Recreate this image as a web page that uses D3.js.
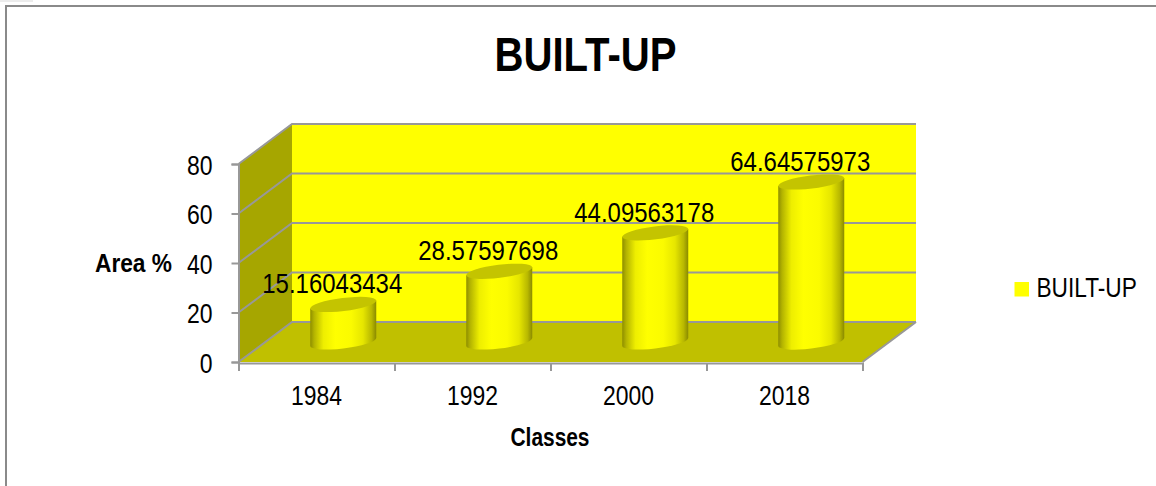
<!DOCTYPE html>
<html><head><meta charset="utf-8">
<script src="https://cdn.jsdelivr.net/npm/d3@7"></script>
<style>html,body{margin:0;padding:0;background:#fff}svg{display:block}text{font-family:"Liberation Sans",sans-serif;fill:#000}</style>
</head><body><svg id="c" width="1156" height="486"></svg>
<script>
const categories = ["1984","1992","2000","2018"];
const values = [15.16043434,28.57597698,44.09563178,64.64575973];
const valueLabels = ["15.16043434","28.57597698","44.09563178","64.64575973"];
const yTicks = [0,20,40,60,80];
const seriesName = "BUILT-UP";
const titleText = "BUILT-UP", xTitle = "Classes", yTitle = "Area %";

const svg = d3.select("#c");
const L=238.5,R=862.5,B=362,T=164,DX=53.5,DY=-40;
const x = d3.scaleBand().domain(categories).range([L,R]);
const xEdges = d3.scaleLinear().domain([0,categories.length]).range([L,R]);
const y = d3.scaleLinear().domain([0,80]).range([B,T]);
const grey="#989898";
// squeeze Liberation Sans to the reference's narrow letterforms
const fit=(sel,w)=>sel.each(function(){this.setAttribute("textLength",typeof w==="function"?w(this.textContent):w);this.setAttribute("lengthAdjust","spacingAndGlyphs");});

// frame
svg.append("rect").attr("x",0).attr("y",0).attr("width",33).attr("height",2).attr("fill","#ececec");
svg.append("path").attr("d","M6,486V6H1156").attr("fill","none").attr("stroke","#8a8a8a").attr("stroke-width",2);

// gradient
const defs=svg.append("defs");
const g=defs.append("linearGradient").attr("id","cyl").attr("x1",0).attr("x2",1).attr("y1",0).attr("y2",0);
[[0,"#8e8e00"],[0.06,"#b4b400"],[0.2,"#eeee00"],[0.38,"#ffff00"],[0.62,"#fbfb00"],[0.8,"#e6e600"],[0.93,"#b8b800"],[1,"#8a8a00"]]
 .forEach(([o,c])=>g.append("stop").attr("offset",o).attr("stop-color",c));

// walls
svg.append("path").attr("fill","#ffff00")
 .attr("d",d3.line()([[L+DX,y(80)+DY],[R+DX,y(80)+DY],[R+DX,y(0)+DY],[L+DX,y(0)+DY]])+"Z");
svg.append("path").attr("fill","#a6a600")
 .attr("d",d3.line()([[L,y(80)],[L+DX,y(80)+DY],[L+DX,y(0)+DY],[L,y(0)]])+"Z");
svg.append("path").attr("fill","#c0c000")
 .attr("d",d3.line()([[L,y(0)],[L+DX,y(0)+DY],[R+DX,y(0)+DY],[R,y(0)]])+"Z");
// gridlines
svg.append("g").selectAll("path").data(yTicks).join("path").attr("fill","none").attr("stroke",grey).attr("stroke-width",2)
 .attr("d",v=>d3.line()([[L,y(v)],[L+DX,y(v)+DY],[R+DX,y(v)+DY]]));
svg.append("path").attr("fill","none").attr("stroke",grey).attr("stroke-width",2)
 .attr("d",d3.line()([[R,y(0)],[R+DX,y(0)+DY]]));

// axes
const ay=svg.append("g").attr("transform",`translate(${L},0)`)
 .call(d3.axisLeft(y).tickValues(yTicks).tickSize(7).tickPadding(19));
const ax=svg.append("g").attr("transform",`translate(0,${B+1})`)
 .call(d3.axisBottom(xEdges).ticks(categories.length).tickSize(8).tickFormat(""));
const al=svg.append("g").attr("transform",`translate(0,${B+1})`)
 .call(d3.axisBottom(x).tickSize(0).tickPadding(0));
al.select(".domain").remove();
[ay,ax].forEach(a=>{a.selectAll("path,line").attr("stroke",grey).attr("stroke-width",2);});
ay.selectAll("text").attr("font-size",27).attr("font-family",null).attr("y",1.5).call(fit,t=>t.length*12.8);
al.selectAll("text").attr("font-size",27).attr("font-family",null).attr("dy",null).attr("y",42).call(fit,51);

// cylinders
const rx=33.2, ry=6.5, tilt=-7, ex=33, ey=3.9;
const cx=d=>x(d)+x.bandwidth()/2+DX/2;
const cyBase=y(0)+DY/2;
const bars=svg.append("g").selectAll("g").data(categories.map((c,i)=>({c,v:values[i],l:valueLabels[i]}))).join("g");
bars.append("path").attr("fill","url(#cyl)")
 .attr("d",d=>{const X=cx(d.c),Yb=cyBase,Yt=cyBase-(y(0)-y(d.v));
   return `M${X-ex},${Yt+ey}L${X-ex},${Yb+ey}A${rx},${ry} ${tilt} 0 0 ${X+ex},${Yb-ey}L${X+ex},${Yt-ey}Z`;});
bars.append("ellipse").attr("fill","#c4c400").attr("rx",rx).attr("ry",ry)
 .attr("transform",d=>`translate(${cx(d.c)},${cyBase-(y(0)-y(d.v))}) rotate(${tilt})`);
bars.append("text").attr("x",d=>cx(d.c)-11).attr("y",d=>cyBase-(y(0)-y(d.v))-11).attr("text-anchor","middle").attr("font-size",27)
 .text(d=>d.l).call(fit,140);

// titles
svg.append("text").attr("x",585.5).attr("y",70.5).attr("text-anchor","middle").attr("font-size",48).attr("font-weight","bold").text(titleText).call(fit,182);
svg.append("text").attr("x",550).attr("y",445.5).attr("text-anchor","middle").attr("font-size",25).attr("font-weight","bold").text(xTitle).call(fit,79);
svg.append("text").attr("x",133.5).attr("y",271.5).attr("text-anchor","middle").attr("font-size",25).attr("font-weight","bold").text(yTitle).call(fit,77);
// legend
svg.append("rect").attr("x",1014.5).attr("y",282).attr("width",14.5).attr("height",14.5).attr("fill","#ffff00");
svg.append("text").attr("transform","translate(1036.5,297) scale(0.81,1)").attr("font-size",28).text(seriesName);
</script></body></html>
